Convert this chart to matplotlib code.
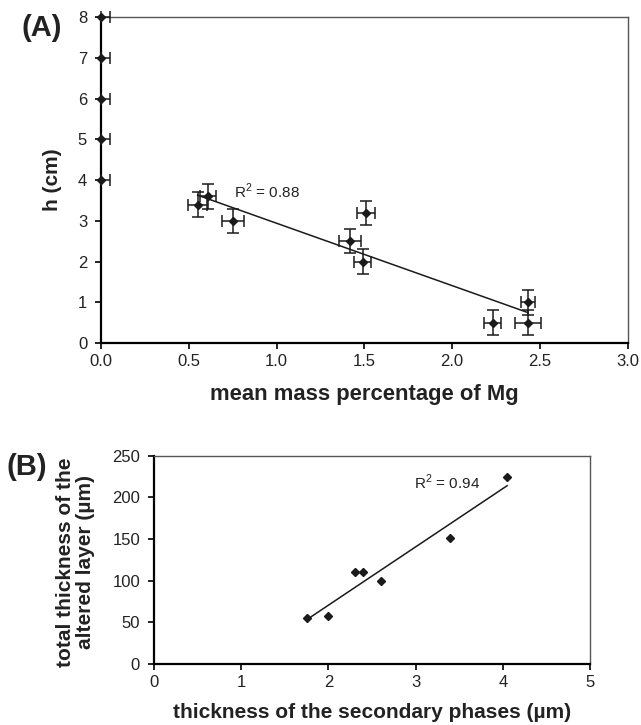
import numpy as np
import matplotlib.pyplot as plt
from matplotlib.ticker import FormatStrFormatter, MultipleLocator

plt.rcParams['font.family'] = ['Liberation Sans', 'DejaVu Sans']
plt.rcParams['mathtext.fontset'] = 'custom'
plt.rcParams['mathtext.rm'] = 'Liberation Sans'

# (A) height vs Mg content
mg_pct = [0.55, 0.61, 0.75, 1.42, 1.49, 1.51, 2.23, 2.43, 2.43]
h_cm = [3.4, 3.6, 3.0, 2.5, 2.0, 3.2, 0.5, 1.0, 0.5]
mg_err = [0.053, 0.047, 0.062, 0.062, 0.05, 0.05, 0.05, 0.04, 0.074]
h_err = [0.3, 0.3, 0.3, 0.3, 0.3, 0.3, 0.3, 0.3, 0.3]

# points with no Mg
h_zero = [4, 5, 6, 7, 8]
mg_zero = [0, 0, 0, 0, 0]
mg_zero_err = [0.05, 0.05, 0.05, 0.05, 0.05]

# (B) altered layer vs secondary phases
sec_phase = [1.75, 2.0, 2.3, 2.4, 2.6, 3.4, 4.05]
altered = [55, 58, 110, 110, 100, 151, 225]

ink = '#1a1a1a'
txt = '#222222'

fig = plt.figure(figsize=(6.41, 7.25), dpi=100)
axA = fig.add_axes([0.1576, 0.5269, 0.8217, 0.4492])
axB = fig.add_axes([0.2402, 0.0841, 0.6802, 0.2873])


def style_axes(ax):
    for side in ['left', 'bottom']:
        ax.spines[side].set_color('black')
        ax.spines[side].set_linewidth(1.6)
    for side in ['top', 'right']:
        ax.spines[side].set_color('#555555')
        ax.spines[side].set_linewidth(1.0)
    ax.tick_params(direction='out', length=4, width=1.2, labelsize=12,
                   labelcolor=txt, top=False, right=False)
    ax.tick_params(axis='x', pad=4)
    ax.tick_params(axis='y', pad=6)


# --- (A) ---
axA.errorbar(mg_pct, h_cm, xerr=mg_err, yerr=h_err, fmt='D', ms=4.5,
             color=ink, ecolor=ink, elinewidth=1.1, capsize=4, capthick=1.1)
axA.errorbar(mg_zero, h_zero, xerr=[[0] * 5, mg_zero_err], fmt='D', ms=4.5,
             color=ink, ecolor=ink, elinewidth=1.1, capsize=4, capthick=1.1,
             clip_on=False, zorder=5)

kA, bA = np.polyfit(mg_pct, h_cm, 1)
xa = np.array([min(mg_pct), max(mg_pct)])
axA.plot(xa, kA * xa + bA, color=ink, lw=1.1)
axA.text(0.76, 3.72, r'R$^\mathrm{2}$ = 0.88', fontsize=11, color=txt,
         va='center', ha='left')

axA.set_xlim(0, 3)
axA.set_ylim(0, 8)
axA.xaxis.set_major_locator(MultipleLocator(0.5))
axA.xaxis.set_major_formatter(FormatStrFormatter('%.1f'))
axA.yaxis.set_major_locator(MultipleLocator(1))
style_axes(axA)

axA.set_xlabel('mean mass percentage of Mg', fontsize=15.8, fontweight='bold',
               color=txt, va='center')
axA.xaxis.set_label_coords(0.5, -0.157)
axA.set_ylabel('h (cm)', fontsize=15, fontweight='bold', color=txt,
               va='center')
axA.yaxis.set_label_coords(-0.093, 0.5)

# --- (B) ---
axB.plot(sec_phase, altered, 'D', ms=4.5, color=ink)
kB, bB = np.polyfit(sec_phase, altered, 1)
xb = np.array([min(sec_phase), max(sec_phase)])
axB.plot(xb, kB * xb + bB, color=ink, lw=1.1)
axB.text(2.98, 218, r'R$^\mathrm{2}$ = 0.94', fontsize=11, color=txt,
         va='center', ha='left')

axB.set_xlim(0, 5)
axB.set_ylim(0, 250)
axB.xaxis.set_major_locator(MultipleLocator(1))
axB.yaxis.set_major_locator(MultipleLocator(50))
style_axes(axB)

axB.set_xlabel('thickness of the secondary phases (µm)', fontsize=15,
               fontweight='bold', color=txt, va='center')
axB.xaxis.set_label_coords(0.5, -0.235)
axB.set_ylabel('total thickness of the\naltered layer (µm)', fontsize=15,
               fontweight='bold', color=txt, va='center',
               linespacing=1.05)
axB.yaxis.set_label_coords(-0.18, 0.49)

# panel letters
fig.text(42 / 641, 1 - 28 / 725, '(A)', fontsize=21, fontweight='bold',
         color=txt, ha='center', va='center')
fig.text(27 / 641, 1 - 467 / 725, '(B)', fontsize=21, fontweight='bold',
         color=txt, ha='center', va='center')

fig.savefig('out.png', dpi=100)
